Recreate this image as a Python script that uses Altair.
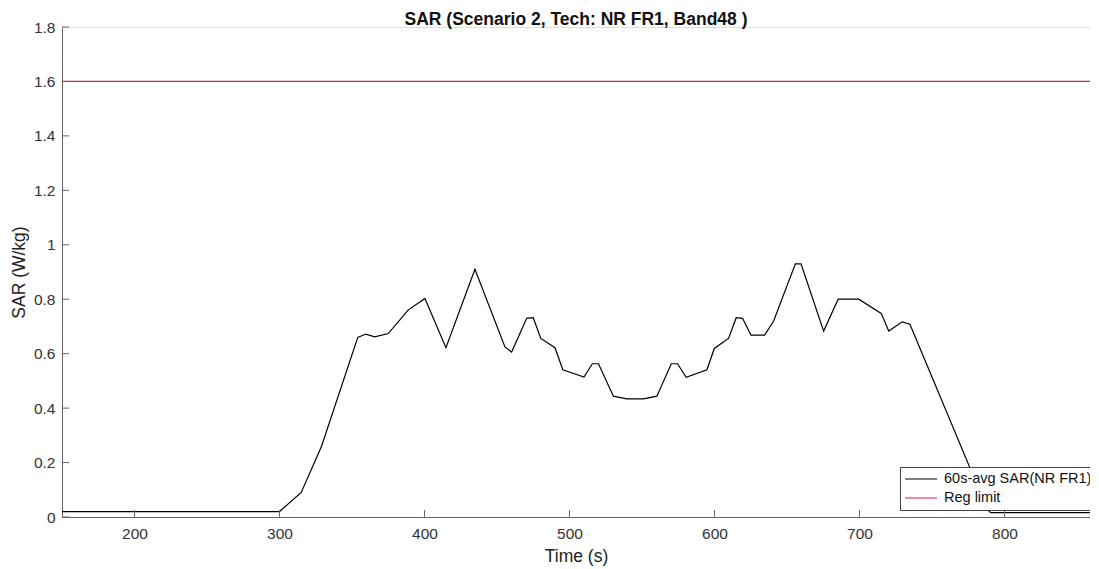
import altair as alt
import pandas as pd

# Data
time_s = [150, 300, 315, 329, 354, 359.5, 365.7, 375, 388.7, 400.3, 414.8, 434.8,
          455.5, 460.1, 470.5, 475, 480.2, 490, 495.4, 510, 515.8, 520, 530.3, 539.5,
          551, 560.3, 570.2, 574.5, 580.5, 594.8, 599.9, 609.7, 615, 619.4, 625.2,
          634.6, 640.8, 655.8, 659.7, 675.3, 685.3, 699.5, 715, 720.2, 729.5, 734.8,
          788.2, 790.5, 865]
sar_avg = [0.02, 0.02, 0.09, 0.26, 0.66, 0.672, 0.662, 0.674, 0.76, 0.803, 0.622, 0.91,
           0.625, 0.606, 0.73, 0.732, 0.656, 0.622, 0.541, 0.514, 0.563, 0.563, 0.444, 0.434,
           0.434, 0.444, 0.563, 0.563, 0.513, 0.541, 0.619, 0.656, 0.732, 0.73, 0.668,
           0.668, 0.72, 0.93, 0.93, 0.683, 0.8, 0.8, 0.748, 0.683, 0.717, 0.708,
           0.028, 0.016, 0.016]
reg_limit = 1.6

series_names = ["60s-avg SAR(NR FR1)", "Reg limit"]
series_colors = ["#000000", "#d2204f"]
x_ticks = [200, 300, 400, 500, 600, 700, 800]
y_ticks = [0, 0.2, 0.4, 0.6, 0.8, 1.0, 1.2, 1.4, 1.6, 1.8]

line_df = pd.DataFrame({"t": time_s, "sar": sar_avg, "series": series_names[0]})
reg_df = pd.DataFrame({"sar": [reg_limit], "series": [series_names[1]]})
xtick_df = pd.DataFrame({"t": x_ticks})
ytick_df = pd.DataFrame({"v": y_ticks})

FONT = "Liberation Sans"
XDOM = [150, 859]
YDOM = [0, 1.8]

color = alt.Color(
    "series:N",
    scale=alt.Scale(domain=series_names, range=series_colors),
    legend=alt.Legend(
        title=None, orient="none", legendX=838, legendY=440,
        symbolType="stroke", symbolSize=1024, symbolStrokeWidth=1.2,
        labelFont=FONT, labelFontSize=14.5, labelColor="#111",
        fillColor="white", strokeColor="#444", padding=4,
        clipHeight=16, rowPadding=3, labelOffset=6, labelLimit=300,
    ),
)

xscale = alt.Scale(domain=XDOM, nice=False, zero=False)
yscale = alt.Scale(domain=YDOM, nice=False)

line = alt.Chart(line_df).mark_line(strokeWidth=1.2, clip=True).encode(
    x=alt.X("t:Q", scale=xscale, title="Time (s)",
            axis=alt.Axis(values=x_ticks, tickSize=0, grid=False, labelPadding=9,
                          domainColor="#666", labelColor="#333", titleColor="#222",
                          labelFont=FONT, titleFont=FONT, labelFontSize=15.5,
                          titleFontSize=17.5, titleFontWeight="normal", titlePadding=6)),
    y=alt.Y("sar:Q", scale=yscale, title="SAR (W/kg)",
            axis=alt.Axis(values=y_ticks, tickSize=0, grid=False, labelPadding=7,
                          format=".1~f", domainColor="#666", labelColor="#333",
                          titleColor="#222", labelFont=FONT, titleFont=FONT,
                          labelFontSize=15.5, titleFontSize=17.5,
                          titleFontWeight="normal", titlePadding=5)),
    color=color,
)

reg = alt.Chart(reg_df).mark_rule(strokeWidth=1.2).encode(
    y=alt.Y("sar:Q", scale=yscale),
    color=color,
)

# inward tick marks
xticks = alt.Chart(xtick_df).mark_rule(color="#666", strokeWidth=1).encode(
    x=alt.X("t:Q", scale=xscale),
    y=alt.value(490), y2=alt.value(483),
)
yticks = alt.Chart(ytick_df).mark_rule(color="#666", strokeWidth=1).encode(
    y=alt.Y("v:Q", scale=yscale),
    x=alt.value(0), x2=alt.value(7),
)

chart = alt.layer(line, reg, xticks, yticks).properties(
    width=1028, height=490,
    title=alt.Title("SAR (Scenario 2, Tech: NR FR1, Band48 )", font=FONT,
                    fontSize=17.5, fontWeight="bold", color="#111", offset=-8),
    autosize=alt.AutoSizeParams(type="none"),
    padding={"left": 54, "top": 19, "right": 0, "bottom": 50},
).configure_view(stroke=None).configure(background="white")

chart.save("out.html", embed_options={"renderer": "svg", "actions": False})
